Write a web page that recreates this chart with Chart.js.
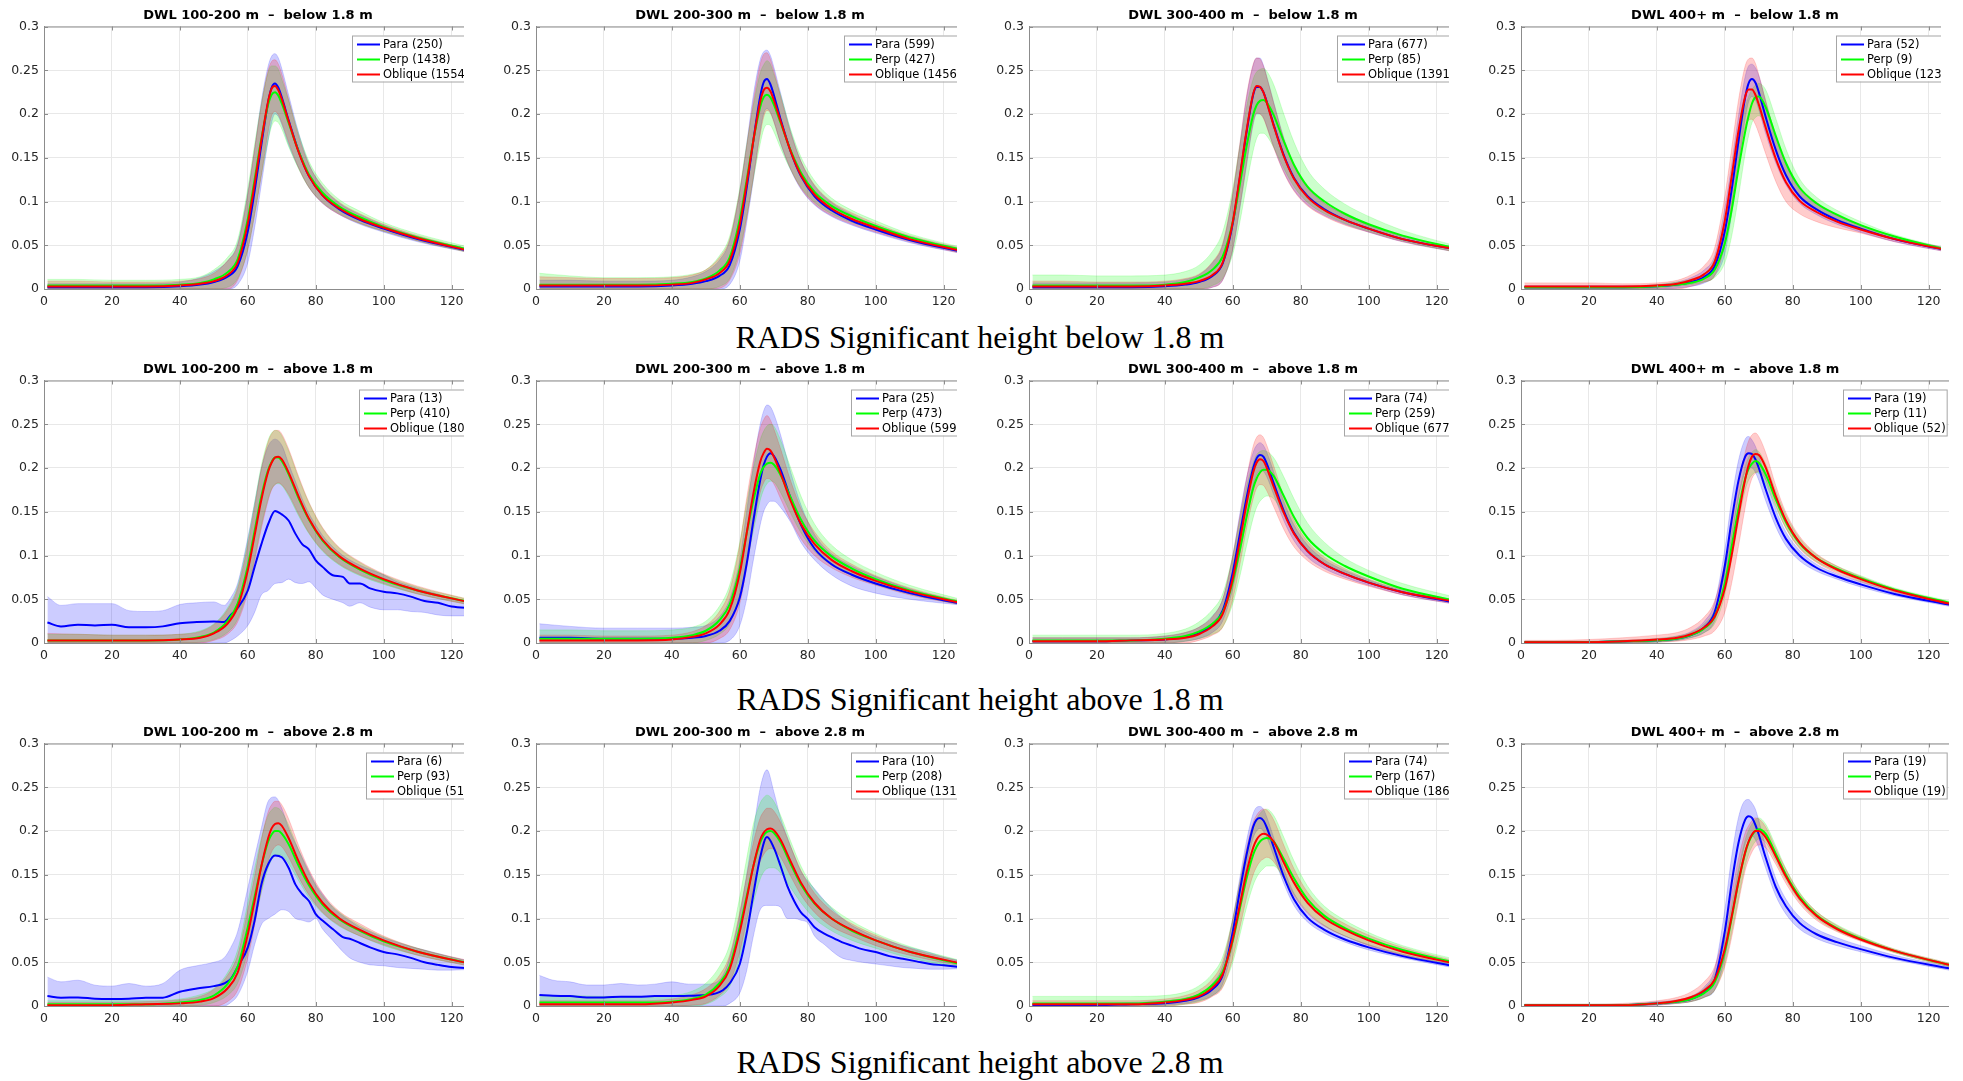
<!DOCTYPE html>
<html>
<head>
<meta charset="utf-8">
<title>DWL waveform means</title>
<script src="https://cdn.jsdelivr.net/npm/chart.js@4.4.1/dist/chart.umd.min.js"></script>
<style>
  body { margin: 0; background: #fff; }
  #fig { position: relative; width: 1963px; height: 1081px; overflow: hidden; background: #fff; }
  .panel { position: absolute; overflow: hidden; }
  .ttl { position: absolute; font: bold 13px "DejaVu Sans", sans-serif; white-space: pre; text-align: center; color: #000; line-height: 17px; }
  .cap { position: absolute; left: 0; width: 1960px; text-align: center; font: 32px "Liberation Serif", serif; line-height: 32px; color: #000; }
</style>
</head>
<body>
<div id="fig"></div>
<script>
// sample positions (range gate) shared by the smooth curves
const xs = [1, 10, 20, 30, 40, 46, 50, 54, 57, 60, 62, 64, 66, 67, 68, 69, 70, 72, 75, 78, 82, 87, 93, 100, 110, 126];
// finer sampling for the noisy low-count Para curves
const xsFine = [1, 5, 10, 15, 20, 25, 30, 35, 40, 45, 50, 53, 55, 57, 60, 62, 64, 66, 68, 70, 72, 74, 76, 78, 80, 82, 85, 88, 90, 93, 96, 100, 104, 108, 112, 116, 120, 126];

const xTicks = [0, 20, 40, 60, 80, 100, 120];
const yTicks = [0, 0.05, 0.1, 0.15, 0.2, 0.25, 0.3];

const dwlBins = ['100-200', '200-300', '300-400', '400+'];
const hsClass = ['below 1.8 m', 'above 1.8 m', 'above 2.8 m'];
const seriesNames = ['Para', 'Perp', 'Oblique'];

// waveform counts per panel, row by row
const paraN    = [250, 599, 677, 52,   13, 25, 74, 19,   6, 10, 74, 19];
const perpN    = [1438, 427, 85, 9,    410, 473, 259, 11, 93, 208, 167, 5];
const obliqueN = [1554, 1456, 1391, 123, 180, 599, 677, 52, 51, 131, 186, 19];

// ---- below 1.8 m ----
// DWL 100-200
const a1Para   = [0.002,0.002,0.002,0.002,0.003,0.005,0.008,0.014,0.026,0.066,0.112,0.165,0.214,0.23,0.235,0.23,0.219,0.193,0.157,0.129,0.107,0.091,0.079,0.069,0.057,0.043];
const a1ParaLo = [0,0,0,0,0,0,0,0,0.005,0.03,0.07,0.12,0.17,0.19,0.2,0.197,0.188,0.165,0.138,0.116,0.098,0.085,0.074,0.065,0.054,0.041];
const a1ParaHi = [0.006,0.006,0.006,0.006,0.008,0.013,0.02,0.032,0.052,0.11,0.16,0.215,0.255,0.266,0.269,0.264,0.252,0.222,0.178,0.143,0.117,0.098,0.085,0.073,0.06,0.045];
const a1Perp   = [0.004,0.004,0.004,0.004,0.005,0.007,0.011,0.019,0.034,0.08,0.125,0.172,0.211,0.222,0.225,0.221,0.212,0.19,0.157,0.131,0.11,0.094,0.082,0.071,0.059,0.044];
const a1PerpLo = [0,0,0,0,0,0,0,0.002,0.012,0.045,0.085,0.13,0.17,0.186,0.192,0.19,0.183,0.163,0.137,0.116,0.099,0.086,0.075,0.066,0.055,0.041];
const a1PerpHi = [0.011,0.011,0.01,0.01,0.011,0.014,0.022,0.036,0.056,0.115,0.165,0.212,0.248,0.255,0.255,0.251,0.24,0.216,0.177,0.146,0.121,0.102,0.089,0.076,0.063,0.047];
const a1Obl    = [0.003,0.003,0.003,0.003,0.004,0.006,0.009,0.016,0.03,0.075,0.12,0.17,0.215,0.229,0.232,0.227,0.217,0.192,0.156,0.129,0.107,0.092,0.08,0.07,0.058,0.043];
const a1OblLo  = [0,0,0,0,0,0,0,0,0.01,0.045,0.085,0.13,0.18,0.198,0.203,0.199,0.19,0.168,0.138,0.116,0.098,0.085,0.075,0.066,0.055,0.041];
const a1OblHi  = [0.009,0.009,0.008,0.008,0.009,0.012,0.018,0.032,0.05,0.108,0.16,0.21,0.25,0.26,0.262,0.257,0.246,0.217,0.174,0.142,0.117,0.099,0.086,0.074,0.061,0.045];
// DWL 200-300
const a2Para   = [0.003,0.003,0.003,0.003,0.004,0.006,0.009,0.015,0.027,0.068,0.115,0.17,0.22,0.236,0.24,0.234,0.222,0.194,0.157,0.129,0.106,0.09,0.078,0.068,0.056,0.042];
const a2ParaLo = [0,0,0,0,0,0,0,0,0.005,0.032,0.075,0.125,0.18,0.2,0.206,0.202,0.192,0.166,0.136,0.114,0.096,0.083,0.073,0.064,0.053,0.04];
const a2ParaHi = [0.01,0.01,0.009,0.009,0.01,0.014,0.02,0.033,0.055,0.112,0.165,0.222,0.262,0.271,0.273,0.267,0.254,0.224,0.18,0.146,0.118,0.099,0.085,0.073,0.06,0.045];
const a2Perp   = [0.005,0.005,0.005,0.005,0.006,0.008,0.012,0.021,0.036,0.08,0.124,0.17,0.208,0.219,0.222,0.219,0.211,0.19,0.158,0.133,0.111,0.095,0.083,0.072,0.059,0.044];
const a2PerpLo = [0,0,0,0,0,0,0,0.003,0.012,0.045,0.082,0.126,0.166,0.182,0.188,0.187,0.18,0.161,0.136,0.116,0.099,0.086,0.076,0.067,0.055,0.041];
const a2PerpHi = [0.018,0.015,0.013,0.013,0.014,0.017,0.022,0.038,0.06,0.115,0.165,0.21,0.247,0.256,0.261,0.257,0.246,0.222,0.182,0.151,0.124,0.104,0.09,0.078,0.063,0.047];
const a2Obl    = [0.004,0.004,0.004,0.004,0.005,0.007,0.011,0.018,0.032,0.074,0.12,0.17,0.214,0.227,0.23,0.226,0.216,0.192,0.157,0.13,0.108,0.092,0.08,0.07,0.057,0.043];
const a2OblLo  = [0,0,0,0,0,0,0,0.001,0.01,0.04,0.08,0.128,0.176,0.196,0.204,0.201,0.191,0.167,0.137,0.115,0.097,0.084,0.074,0.065,0.054,0.04];
const a2OblHi  = [0.014,0.013,0.012,0.012,0.013,0.016,0.022,0.036,0.057,0.112,0.163,0.215,0.257,0.268,0.27,0.263,0.25,0.22,0.178,0.146,0.119,0.1,0.087,0.075,0.061,0.046];
// DWL 300-400
const a3Para   = [0.002,0.002,0.002,0.002,0.003,0.005,0.008,0.015,0.029,0.075,0.125,0.178,0.222,0.231,0.231,0.225,0.214,0.188,0.153,0.127,0.106,0.091,0.079,0.069,0.057,0.045];
const a3ParaLo = [0,0,0,0,0,0,0,0.002,0.01,0.045,0.09,0.14,0.188,0.2,0.2,0.196,0.186,0.163,0.134,0.113,0.096,0.084,0.074,0.065,0.054,0.042];
const a3ParaHi = [0.007,0.007,0.007,0.007,0.008,0.011,0.016,0.03,0.05,0.108,0.162,0.218,0.256,0.264,0.264,0.256,0.243,0.214,0.173,0.142,0.116,0.098,0.085,0.073,0.06,0.047];
const a3Perp   = [0.004,0.004,0.004,0.004,0.005,0.008,0.013,0.022,0.037,0.077,0.118,0.162,0.199,0.21,0.215,0.216,0.213,0.199,0.169,0.142,0.117,0.1,0.086,0.074,0.061,0.046];
const a3PerpLo = [0,0,0,0,0,0,0,0.004,0.012,0.04,0.075,0.118,0.158,0.172,0.178,0.178,0.175,0.162,0.138,0.117,0.099,0.086,0.075,0.066,0.055,0.042];
const a3PerpHi = [0.016,0.016,0.015,0.015,0.016,0.02,0.027,0.043,0.065,0.115,0.162,0.207,0.24,0.248,0.251,0.252,0.249,0.234,0.2,0.168,0.136,0.114,0.097,0.083,0.067,0.049];
const a3Obl    = [0.003,0.003,0.003,0.003,0.004,0.006,0.009,0.016,0.03,0.077,0.127,0.18,0.223,0.232,0.231,0.225,0.213,0.187,0.152,0.126,0.105,0.09,0.079,0.069,0.057,0.045];
const a3OblLo  = [0,0,0,0,0,0,0,0.002,0.01,0.046,0.092,0.142,0.19,0.201,0.2,0.195,0.185,0.162,0.133,0.112,0.095,0.083,0.073,0.065,0.054,0.042];
const a3OblHi  = [0.009,0.009,0.008,0.008,0.009,0.012,0.017,0.031,0.052,0.11,0.164,0.22,0.257,0.264,0.263,0.255,0.242,0.213,0.172,0.141,0.116,0.098,0.085,0.073,0.06,0.047];
// DWL 400+
const a4Para   = [0.002,0.002,0.002,0.002,0.003,0.005,0.008,0.014,0.026,0.066,0.113,0.168,0.219,0.235,0.24,0.236,0.225,0.197,0.159,0.13,0.106,0.091,0.079,0.069,0.057,0.044];
const a4ParaLo = [0,0,0,0,0,0.001,0.003,0.007,0.015,0.04,0.085,0.14,0.195,0.214,0.22,0.216,0.205,0.178,0.144,0.119,0.098,0.085,0.074,0.065,0.054,0.042];
const a4ParaHi = [0.004,0.004,0.004,0.004,0.005,0.008,0.013,0.022,0.038,0.092,0.142,0.197,0.243,0.255,0.257,0.253,0.244,0.215,0.174,0.142,0.114,0.097,0.084,0.073,0.06,0.046];
const a4Perp   = [0.002,0.002,0.002,0.002,0.003,0.005,0.007,0.012,0.022,0.052,0.09,0.137,0.18,0.198,0.212,0.219,0.22,0.208,0.175,0.144,0.116,0.098,0.085,0.073,0.06,0.044];
const a4PerpLo = [0,0,0,0,0.001,0.003,0.005,0.008,0.013,0.03,0.06,0.105,0.155,0.175,0.19,0.196,0.198,0.188,0.158,0.131,0.107,0.092,0.08,0.07,0.058,0.043];
const a4PerpHi = [0.003,0.003,0.003,0.003,0.005,0.008,0.011,0.018,0.034,0.078,0.125,0.172,0.208,0.22,0.228,0.233,0.235,0.228,0.195,0.16,0.126,0.105,0.09,0.077,0.062,0.046];
const a4Obl    = [0.003,0.003,0.003,0.003,0.004,0.006,0.01,0.017,0.031,0.078,0.128,0.18,0.22,0.228,0.228,0.222,0.211,0.185,0.149,0.122,0.101,0.088,0.077,0.068,0.057,0.044];
const a4OblLo  = [0,0,0,0,0,0,0.003,0.008,0.015,0.05,0.095,0.145,0.185,0.193,0.194,0.188,0.178,0.155,0.123,0.1,0.086,0.077,0.07,0.064,0.054,0.042];
const a4OblHi  = [0.007,0.007,0.007,0.006,0.007,0.01,0.016,0.027,0.047,0.106,0.16,0.215,0.255,0.263,0.264,0.258,0.245,0.216,0.175,0.144,0.117,0.099,0.084,0.073,0.06,0.046];

// ---- above 1.8 m ----
// DWL 100-200 (Para on the fine grid)
const b1Para   = [0.0234,0.019,0.021,0.02,0.021,0.018,0.018,0.019,0.0227,0.024,0.0246,0.024,0.032,0.04,0.06,0.087,0.113,0.136,0.151,0.147,0.14,0.125,0.113,0.107,0.0945,0.087,0.0775,0.0756,0.068,0.068,0.0624,0.0586,0.0567,0.053,0.048,0.046,0.0416,0.04];
const b1ParaLo = [0,0,0,0,0,0,0,0,0,0,0,0,0.003,0.008,0.02,0.035,0.055,0.06,0.068,0.069,0.073,0.069,0.068,0.07,0.063,0.055,0.05,0.046,0.042,0.046,0.041,0.038,0.038,0.036,0.035,0.032,0.031,0.031];
const b1ParaHi = [0.053,0.043,0.045,0.045,0.045,0.037,0.036,0.037,0.044,0.046,0.047,0.043,0.052,0.068,0.12,0.16,0.2,0.225,0.233,0.226,0.205,0.185,0.165,0.148,0.135,0.123,0.11,0.1,0.095,0.089,0.084,0.078,0.07,0.065,0.06,0.056,0.051,0.047];
const b1Perp   = [0.003,0.003,0.003,0.003,0.004,0.007,0.012,0.025,0.045,0.088,0.128,0.168,0.198,0.207,0.212,0.212,0.208,0.193,0.165,0.141,0.117,0.098,0.084,0.072,0.06,0.046];
const b1PerpLo = [0,0,0,0,0,0.001,0.004,0.012,0.027,0.062,0.097,0.135,0.165,0.176,0.181,0.182,0.18,0.168,0.145,0.125,0.105,0.089,0.077,0.067,0.056,0.043];
const b1PerpHi = [0.01,0.01,0.009,0.009,0.01,0.014,0.022,0.04,0.065,0.117,0.16,0.203,0.232,0.24,0.243,0.242,0.237,0.22,0.188,0.16,0.131,0.108,0.092,0.078,0.064,0.049];
const b1Obl    = [0.003,0.003,0.003,0.003,0.004,0.006,0.011,0.022,0.041,0.083,0.123,0.164,0.196,0.206,0.212,0.213,0.21,0.195,0.167,0.142,0.118,0.099,0.085,0.073,0.06,0.046];
const b1OblLo  = [0,0,0,0,0,0,0.003,0.01,0.024,0.058,0.093,0.131,0.163,0.175,0.181,0.183,0.181,0.17,0.147,0.126,0.106,0.09,0.078,0.068,0.056,0.043];
const b1OblHi  = [0.011,0.01,0.009,0.009,0.01,0.013,0.021,0.038,0.062,0.112,0.155,0.199,0.23,0.239,0.243,0.243,0.239,0.222,0.19,0.161,0.132,0.109,0.093,0.079,0.065,0.049];
// DWL 200-300
const b2Para   = [0.006,0.006,0.005,0.005,0.005,0.006,0.008,0.014,0.025,0.052,0.09,0.14,0.186,0.203,0.213,0.217,0.214,0.198,0.165,0.135,0.108,0.09,0.078,0.068,0.057,0.044];
const b2ParaLo = [0,0,0,0,0,0,0,0,0.003,0.02,0.05,0.095,0.135,0.15,0.158,0.162,0.162,0.155,0.138,0.115,0.095,0.078,0.065,0.057,0.05,0.043];
const b2ParaHi = [0.022,0.019,0.017,0.017,0.017,0.018,0.02,0.03,0.05,0.095,0.15,0.205,0.25,0.265,0.272,0.27,0.262,0.238,0.195,0.158,0.124,0.102,0.088,0.076,0.062,0.046];
const b2Perp   = [0.005,0.005,0.005,0.005,0.006,0.009,0.014,0.026,0.044,0.085,0.125,0.163,0.193,0.201,0.205,0.206,0.204,0.192,0.166,0.141,0.117,0.099,0.085,0.073,0.06,0.046];
const b2PerpLo = [0,0,0,0,0,0,0.003,0.01,0.022,0.055,0.09,0.128,0.163,0.175,0.182,0.185,0.184,0.172,0.148,0.126,0.105,0.089,0.077,0.067,0.056,0.043];
const b2PerpHi = [0.015,0.015,0.014,0.014,0.015,0.018,0.025,0.042,0.066,0.115,0.16,0.2,0.232,0.242,0.248,0.25,0.248,0.232,0.2,0.168,0.136,0.112,0.095,0.081,0.066,0.049];
const b2Obl    = [0.003,0.003,0.003,0.003,0.004,0.007,0.011,0.021,0.038,0.08,0.125,0.171,0.207,0.217,0.222,0.22,0.213,0.194,0.162,0.136,0.113,0.095,0.082,0.071,0.059,0.045];
const b2OblLo  = [0,0,0,0,0,0,0,0.005,0.015,0.045,0.085,0.133,0.172,0.183,0.188,0.187,0.182,0.165,0.14,0.119,0.1,0.086,0.075,0.066,0.055,0.043];
const b2OblHi  = [0.009,0.009,0.008,0.008,0.009,0.013,0.02,0.036,0.06,0.113,0.165,0.21,0.245,0.255,0.26,0.255,0.245,0.222,0.185,0.154,0.127,0.105,0.09,0.077,0.063,0.047];
// DWL 300-400
const b3Para   = [0.002,0.002,0.002,0.003,0.004,0.007,0.011,0.021,0.037,0.081,0.123,0.165,0.2,0.211,0.215,0.213,0.205,0.183,0.151,0.126,0.105,0.09,0.079,0.069,0.058,0.046];
const b3ParaLo = [0,0,0,0,0,0.002,0.005,0.012,0.025,0.062,0.1,0.142,0.18,0.192,0.197,0.196,0.19,0.17,0.14,0.117,0.098,0.085,0.075,0.066,0.055,0.044];
const b3ParaHi = [0.006,0.006,0.006,0.006,0.008,0.012,0.018,0.031,0.05,0.1,0.146,0.188,0.218,0.226,0.229,0.226,0.218,0.196,0.162,0.135,0.112,0.095,0.083,0.072,0.06,0.048];
const b3Perp   = [0.003,0.003,0.003,0.003,0.005,0.008,0.013,0.022,0.035,0.07,0.105,0.143,0.177,0.188,0.195,0.198,0.198,0.191,0.168,0.144,0.12,0.102,0.088,0.076,0.062,0.048];
const b3PerpLo = [0,0,0,0,0,0.002,0.005,0.01,0.018,0.045,0.075,0.11,0.143,0.155,0.162,0.166,0.168,0.165,0.147,0.127,0.107,0.092,0.08,0.07,0.058,0.045];
const b3PerpHi = [0.009,0.009,0.009,0.009,0.011,0.016,0.024,0.038,0.056,0.1,0.14,0.178,0.206,0.215,0.219,0.22,0.219,0.212,0.19,0.165,0.137,0.115,0.097,0.083,0.068,0.052];
const b3Obl    = [0.002,0.002,0.002,0.003,0.004,0.006,0.01,0.019,0.033,0.074,0.115,0.158,0.195,0.206,0.21,0.208,0.2,0.179,0.149,0.125,0.105,0.09,0.079,0.069,0.058,0.047];
const b3OblLo  = [0,0,0,0,0,0,0.003,0.009,0.018,0.05,0.088,0.13,0.165,0.177,0.181,0.18,0.174,0.156,0.13,0.11,0.094,0.082,0.073,0.065,0.055,0.044];
const b3OblHi  = [0.006,0.006,0.006,0.006,0.008,0.012,0.018,0.03,0.05,0.1,0.143,0.187,0.225,0.235,0.238,0.235,0.226,0.203,0.168,0.14,0.116,0.098,0.085,0.073,0.061,0.049];
// DWL 400+
const b4Para   = [0.001,0.001,0.001,0.002,0.003,0.005,0.009,0.018,0.035,0.088,0.14,0.185,0.213,0.217,0.216,0.21,0.2,0.176,0.143,0.119,0.1,0.086,0.076,0.067,0.056,0.044];
const b4ParaLo = [0,0,0,0,0.001,0.003,0.006,0.012,0.025,0.07,0.118,0.165,0.196,0.2,0.2,0.195,0.186,0.163,0.133,0.111,0.094,0.082,0.073,0.064,0.054,0.042];
const b4ParaHi = [0.002,0.002,0.002,0.003,0.005,0.008,0.013,0.025,0.046,0.107,0.163,0.208,0.233,0.236,0.232,0.225,0.214,0.189,0.153,0.127,0.106,0.09,0.079,0.07,0.058,0.046];
const b4Perp   = [0.001,0.001,0.001,0.002,0.003,0.005,0.009,0.017,0.03,0.068,0.11,0.153,0.188,0.199,0.205,0.208,0.206,0.193,0.164,0.138,0.114,0.097,0.085,0.074,0.061,0.046];
const b4PerpLo = [0,0,0,0,0.001,0.003,0.006,0.012,0.022,0.055,0.095,0.138,0.175,0.186,0.192,0.195,0.194,0.182,0.155,0.131,0.109,0.093,0.082,0.071,0.059,0.045];
const b4PerpHi = [0.002,0.002,0.002,0.003,0.005,0.008,0.012,0.022,0.038,0.082,0.125,0.168,0.202,0.212,0.218,0.221,0.219,0.205,0.174,0.146,0.12,0.101,0.088,0.077,0.063,0.048];
const b4Obl    = [0.001,0.001,0.001,0.002,0.004,0.006,0.01,0.018,0.03,0.062,0.1,0.145,0.187,0.203,0.213,0.216,0.215,0.201,0.168,0.14,0.115,0.097,0.084,0.073,0.06,0.045];
const b4OblLo  = [0,0,0,0,0.001,0.002,0.004,0.008,0.014,0.035,0.068,0.11,0.155,0.175,0.188,0.194,0.196,0.187,0.157,0.131,0.108,0.092,0.08,0.07,0.058,0.043];
const b4OblHi  = [0.003,0.003,0.004,0.006,0.009,0.012,0.018,0.03,0.048,0.092,0.135,0.18,0.218,0.231,0.238,0.24,0.236,0.218,0.18,0.149,0.122,0.102,0.088,0.076,0.062,0.047];

// ---- above 2.8 m ----
// DWL 100-200 (Para on the fine grid)
const c1Para   = [0.0113,0.0095,0.0098,0.0083,0.008,0.0083,0.0095,0.0095,0.0163,0.02,0.0227,0.0257,0.031,0.0446,0.067,0.0976,0.139,0.162,0.172,0.17,0.158,0.139,0.128,0.12,0.105,0.0976,0.088,0.0787,0.0768,0.072,0.067,0.0617,0.059,0.055,0.05,0.047,0.0446,0.043];
const c1ParaLo = [0,0,0,0,0,0,0,0,0,0,0,0,0.004,0.012,0.04,0.07,0.093,0.1,0.105,0.11,0.108,0.1,0.098,0.096,0.1,0.088,0.075,0.062,0.055,0.05,0.047,0.046,0.044,0.043,0.042,0.041,0.041,0.042];
const c1ParaHi = [0.033,0.0276,0.0295,0.0238,0.0227,0.0257,0.0227,0.0257,0.041,0.046,0.05,0.055,0.067,0.085,0.135,0.17,0.2035,0.234,0.239,0.226,0.2035,0.186,0.17,0.154,0.139,0.128,0.113,0.103,0.0976,0.09,0.085,0.078,0.073,0.068,0.064,0.06,0.056,0.051];
const c1Perp   = [0.002,0.002,0.002,0.002,0.004,0.007,0.012,0.025,0.045,0.09,0.125,0.16,0.188,0.196,0.2,0.2,0.197,0.185,0.16,0.138,0.116,0.099,0.086,0.074,0.062,0.048];
const c1PerpLo = [0,0,0,0,0,0.001,0.004,0.012,0.026,0.062,0.095,0.13,0.158,0.167,0.172,0.173,0.172,0.163,0.143,0.124,0.106,0.091,0.08,0.069,0.058,0.045];
const c1PerpHi = [0.006,0.006,0.006,0.006,0.008,0.013,0.02,0.038,0.064,0.118,0.157,0.192,0.218,0.224,0.227,0.226,0.222,0.207,0.178,0.152,0.126,0.107,0.092,0.079,0.066,0.05];
const c1Obl    = [0.001,0.001,0.001,0.002,0.003,0.005,0.009,0.02,0.038,0.082,0.12,0.16,0.192,0.203,0.208,0.209,0.206,0.192,0.165,0.141,0.118,0.1,0.087,0.075,0.062,0.048];
const c1OblLo  = [0,0,0,0,0,0,0,0.005,0.018,0.055,0.092,0.132,0.165,0.176,0.182,0.184,0.182,0.17,0.147,0.127,0.107,0.092,0.08,0.07,0.058,0.045];
const c1OblHi  = [0.004,0.004,0.004,0.005,0.007,0.011,0.019,0.035,0.058,0.11,0.148,0.19,0.222,0.23,0.234,0.234,0.23,0.214,0.183,0.156,0.129,0.108,0.094,0.08,0.066,0.051];
// DWL 200-300 (Para on the fine grid)
const c2Para   = [0.0125,0.0117,0.0113,0.0098,0.0098,0.0106,0.0106,0.0113,0.0113,0.0117,0.0125,0.0144,0.018,0.0257,0.048,0.0825,0.128,0.17,0.193,0.181,0.16,0.137,0.12,0.107,0.0995,0.09,0.0825,0.0768,0.073,0.069,0.065,0.0617,0.057,0.054,0.051,0.048,0.0465,0.044];
const c2ParaLo = [0,0,0,0,0,0,0,0,0,0,0,0,0,0.003,0.015,0.04,0.08,0.11,0.115,0.115,0.113,0.1,0.1,0.098,0.095,0.08,0.07,0.06,0.055,0.052,0.05,0.048,0.046,0.044,0.043,0.042,0.042,0.043];
const c2ParaHi = [0.035,0.0295,0.0276,0.024,0.024,0.0257,0.024,0.025,0.0276,0.025,0.025,0.027,0.035,0.055,0.105,0.15,0.2,0.249,0.27,0.245,0.215,0.193,0.172,0.154,0.143,0.134,0.12,0.108,0.101,0.092,0.086,0.0787,0.074,0.069,0.065,0.061,0.056,0.051];
const c2Perp   = [0.004,0.004,0.004,0.004,0.005,0.008,0.013,0.026,0.045,0.09,0.125,0.16,0.187,0.195,0.199,0.2,0.198,0.187,0.162,0.139,0.117,0.1,0.086,0.075,0.062,0.047];
const c2PerpLo = [0,0,0,0,0,0,0.002,0.01,0.022,0.055,0.085,0.118,0.145,0.153,0.157,0.158,0.158,0.152,0.135,0.118,0.1,0.086,0.075,0.066,0.055,0.043];
const c2PerpHi = [0.012,0.012,0.011,0.011,0.012,0.017,0.026,0.045,0.07,0.125,0.168,0.208,0.232,0.238,0.241,0.239,0.234,0.218,0.188,0.16,0.133,0.113,0.097,0.083,0.068,0.051];
const c2Obl    = [0.002,0.002,0.002,0.002,0.004,0.007,0.011,0.023,0.042,0.085,0.122,0.16,0.19,0.198,0.202,0.203,0.201,0.19,0.165,0.141,0.118,0.1,0.087,0.075,0.062,0.048];
const c2OblLo  = [0,0,0,0,0,0.001,0.003,0.012,0.026,0.062,0.097,0.135,0.165,0.173,0.178,0.18,0.179,0.17,0.148,0.127,0.107,0.091,0.08,0.069,0.058,0.045];
const c2OblHi  = [0.006,0.006,0.006,0.006,0.008,0.013,0.02,0.035,0.058,0.108,0.148,0.187,0.215,0.222,0.226,0.226,0.223,0.21,0.182,0.155,0.129,0.109,0.094,0.081,0.066,0.05];
// DWL 300-400
const c3Para   = [0.001,0.001,0.001,0.002,0.003,0.006,0.01,0.019,0.035,0.085,0.13,0.172,0.205,0.213,0.215,0.212,0.204,0.182,0.148,0.122,0.101,0.087,0.076,0.067,0.057,0.045];
const c3ParaLo = [0,0,0,0,0.001,0.003,0.006,0.012,0.025,0.07,0.115,0.158,0.192,0.2,0.203,0.2,0.193,0.172,0.14,0.115,0.096,0.083,0.073,0.064,0.055,0.043];
const c3ParaHi = [0.003,0.003,0.003,0.004,0.006,0.009,0.014,0.026,0.046,0.1,0.145,0.188,0.22,0.227,0.228,0.225,0.216,0.193,0.157,0.129,0.107,0.092,0.08,0.07,0.059,0.047];
const c3Perp   = [0.003,0.003,0.003,0.003,0.005,0.008,0.013,0.024,0.039,0.075,0.11,0.145,0.173,0.182,0.188,0.191,0.192,0.188,0.168,0.146,0.122,0.103,0.089,0.077,0.064,0.049];
const c3PerpLo = [0,0,0,0,0,0.002,0.005,0.012,0.022,0.05,0.08,0.112,0.138,0.147,0.153,0.157,0.16,0.16,0.146,0.128,0.108,0.092,0.08,0.07,0.059,0.046];
const c3PerpHi = [0.011,0.011,0.011,0.011,0.012,0.016,0.023,0.037,0.056,0.1,0.14,0.177,0.205,0.214,0.22,0.224,0.225,0.218,0.193,0.166,0.137,0.114,0.098,0.084,0.069,0.053];
const c3Obl    = [0.002,0.002,0.002,0.002,0.004,0.007,0.011,0.021,0.036,0.077,0.114,0.152,0.181,0.19,0.195,0.197,0.196,0.188,0.164,0.141,0.118,0.1,0.087,0.075,0.062,0.048];
const c3OblLo  = [0,0,0,0,0,0.002,0.004,0.011,0.021,0.055,0.088,0.123,0.15,0.159,0.165,0.168,0.17,0.165,0.146,0.126,0.106,0.091,0.08,0.069,0.058,0.045];
const c3OblHi  = [0.006,0.006,0.006,0.006,0.008,0.012,0.018,0.031,0.051,0.1,0.14,0.18,0.21,0.218,0.223,0.225,0.224,0.213,0.184,0.157,0.13,0.109,0.094,0.081,0.067,0.051];
// DWL 400+
const c4Para   = [0.001,0.001,0.001,0.001,0.003,0.005,0.008,0.016,0.03,0.085,0.14,0.186,0.213,0.217,0.215,0.207,0.196,0.17,0.136,0.114,0.095,0.082,0.073,0.065,0.055,0.043];
const c4ParaLo = [0,0,0,0,0.001,0.003,0.005,0.01,0.018,0.055,0.1,0.15,0.185,0.192,0.195,0.19,0.181,0.158,0.126,0.105,0.088,0.077,0.069,0.062,0.053,0.041];
const c4ParaHi = [0.002,0.002,0.002,0.002,0.005,0.007,0.011,0.022,0.042,0.11,0.17,0.215,0.235,0.236,0.232,0.225,0.212,0.183,0.146,0.122,0.102,0.088,0.078,0.069,0.058,0.045];
const c4Perp   = [0.001,0.001,0.001,0.001,0.003,0.005,0.008,0.015,0.027,0.062,0.1,0.141,0.175,0.187,0.195,0.2,0.202,0.197,0.174,0.15,0.125,0.104,0.089,0.077,0.063,0.047];
const c4PerpLo = [0,0,0,0,0.002,0.003,0.005,0.01,0.018,0.048,0.083,0.122,0.16,0.173,0.182,0.188,0.191,0.187,0.166,0.144,0.12,0.1,0.086,0.075,0.061,0.045];
const c4PerpHi = [0.002,0.002,0.002,0.002,0.004,0.007,0.011,0.02,0.036,0.076,0.115,0.156,0.19,0.201,0.208,0.213,0.215,0.208,0.183,0.157,0.13,0.108,0.093,0.08,0.065,0.049];
const c4Obl    = [0.001,0.001,0.001,0.001,0.003,0.006,0.01,0.018,0.03,0.065,0.102,0.142,0.176,0.188,0.196,0.2,0.2,0.193,0.171,0.148,0.123,0.103,0.088,0.076,0.063,0.047];
const c4OblLo  = [0,0,0,0,0.001,0.003,0.005,0.01,0.018,0.045,0.078,0.118,0.155,0.167,0.176,0.182,0.184,0.181,0.162,0.14,0.117,0.098,0.085,0.074,0.061,0.045];
const c4OblHi  = [0.002,0.002,0.002,0.003,0.006,0.01,0.016,0.028,0.045,0.088,0.128,0.168,0.198,0.206,0.212,0.215,0.214,0.205,0.18,0.156,0.129,0.108,0.092,0.079,0.065,0.049];

// panel contents: [para, perp, oblique] as [x, mean, lo, hi]
const panelData = [
  [
    [[xs, a1Para, a1ParaLo, a1ParaHi], [xs, a1Perp, a1PerpLo, a1PerpHi], [xs, a1Obl, a1OblLo, a1OblHi]],
    [[xs, a2Para, a2ParaLo, a2ParaHi], [xs, a2Perp, a2PerpLo, a2PerpHi], [xs, a2Obl, a2OblLo, a2OblHi]],
    [[xs, a3Para, a3ParaLo, a3ParaHi], [xs, a3Perp, a3PerpLo, a3PerpHi], [xs, a3Obl, a3OblLo, a3OblHi]],
    [[xs, a4Para, a4ParaLo, a4ParaHi], [xs, a4Perp, a4PerpLo, a4PerpHi], [xs, a4Obl, a4OblLo, a4OblHi]]
  ],
  [
    [[xsFine, b1Para, b1ParaLo, b1ParaHi], [xs, b1Perp, b1PerpLo, b1PerpHi], [xs, b1Obl, b1OblLo, b1OblHi]],
    [[xs, b2Para, b2ParaLo, b2ParaHi], [xs, b2Perp, b2PerpLo, b2PerpHi], [xs, b2Obl, b2OblLo, b2OblHi]],
    [[xs, b3Para, b3ParaLo, b3ParaHi], [xs, b3Perp, b3PerpLo, b3PerpHi], [xs, b3Obl, b3OblLo, b3OblHi]],
    [[xs, b4Para, b4ParaLo, b4ParaHi], [xs, b4Perp, b4PerpLo, b4PerpHi], [xs, b4Obl, b4OblLo, b4OblHi]]
  ],
  [
    [[xsFine, c1Para, c1ParaLo, c1ParaHi], [xs, c1Perp, c1PerpLo, c1PerpHi], [xs, c1Obl, c1OblLo, c1OblHi]],
    [[xsFine, c2Para, c2ParaLo, c2ParaHi], [xs, c2Perp, c2PerpLo, c2PerpHi], [xs, c2Obl, c2OblLo, c2OblHi]],
    [[xs, c3Para, c3ParaLo, c3ParaHi], [xs, c3Perp, c3PerpLo, c3PerpHi], [xs, c3Obl, c3OblLo, c3OblHi]],
    [[xs, c4Para, c4ParaLo, c4ParaHi], [xs, c4Perp, c4PerpLo, c4PerpHi], [xs, c4Obl, c4OblLo, c4OblHi]]
  ]
];

// layout of the 3x4 grid
const colLeft = [44, 536, 1029, 1521];
const rowTop = [24, 378, 741];
const visW = [[420, 421, 420, 420], [420, 421, 420, 428], [420, 421, 420, 428]];
const FULL_W = 428, PLOT_H = 265, AXIS_W = 48, PAD_TOP = 10, XAX_H = 26;
const X_MAX = 126;
const capTop = [321, 683, 1046];

const rgb = ['0,0,255', '0,255,0', '255,0,0'];
const tickFont = { family: '"DejaVu Sans", sans-serif', size: 12.5 };

const fig = document.getElementById('fig');

function pts(x, y) { return x.map((v, i) => ({ x: v, y: y[i] })); }

// axes box top edge plus inward tick marks
const framePlugin = {
  id: 'frame',
  afterDraw(chart) {
    const { ctx, chartArea: a, scales } = chart;
    ctx.save();
    ctx.strokeStyle = '#8c8c8c';
    ctx.lineWidth = 1;
    ctx.beginPath();
    ctx.moveTo(a.left, a.top + 0.5); ctx.lineTo(a.right, a.top + 0.5);
    xTicks.forEach(v => {
      const px = Math.round(scales.x.getPixelForValue(v)) + 0.5;
      ctx.moveTo(px, a.bottom); ctx.lineTo(px, a.bottom - 4);
      ctx.moveTo(px, a.top); ctx.lineTo(px, a.top + 4);
    });
    yTicks.forEach(v => {
      const py = Math.round(scales.y.getPixelForValue(v)) + 0.5;
      ctx.moveTo(a.left, py); ctx.lineTo(a.left + 4, py);
    });
    ctx.stroke();
    ctx.restore();
  }
};

function legendPlugin(items) {
  return {
    id: 'boxLegend',
    afterDraw(chart) {
      const { ctx, chartArea: a } = chart;
      ctx.save();
      ctx.font = '11.5px "DejaVu Sans", sans-serif';
      const tw = Math.max(...items.map(it => ctx.measureText(it.text).width));
      const w = tw + 32, h = 46;
      const x0 = Math.round(a.right - 2 - w), y0 = a.top + 9;
      ctx.fillStyle = '#fff';
      ctx.fillRect(x0, y0, w, h);
      ctx.strokeStyle = '#a6a6a6';
      ctx.lineWidth = 1;
      ctx.strokeRect(x0 + 0.5, y0 + 0.5, w, h);
      items.forEach((it, i) => {
        const yy = y0 + 9 + i * 15;
        ctx.strokeStyle = it.color;
        ctx.lineWidth = 2;
        ctx.beginPath();
        ctx.moveTo(x0 + 5, yy); ctx.lineTo(x0 + 28, yy);
        ctx.stroke();
        ctx.fillStyle = '#000';
        ctx.textBaseline = 'middle';
        ctx.fillText(it.text, x0 + 31, yy + 1);
      });
      ctx.restore();
    }
  };
}

for (let r = 0; r < 3; r++) {
  for (let c = 0; c < 4; c++) {
    const k = r * 4 + c;
    const counts = [paraN[k], perpN[k], obliqueN[k]];
    const series = panelData[r][c];

    const box = document.createElement('div');
    box.className = 'panel';
    box.style.left = (colLeft[c] - AXIS_W) + 'px';
    box.style.top = (rowTop[r] - PAD_TOP) + 'px';
    box.style.width = (AXIS_W + visW[r][c]) + 'px';
    box.style.height = (PAD_TOP + PLOT_H + XAX_H) + 'px';
    const cv = document.createElement('canvas');
    cv.width = AXIS_W + FULL_W + 2;
    cv.height = PAD_TOP + PLOT_H + XAX_H;
    box.appendChild(cv);
    fig.appendChild(box);

    const ttl = document.createElement('div');
    ttl.className = 'ttl';
    ttl.style.left = colLeft[c] + 'px';
    ttl.style.width = FULL_W + 'px';
    ttl.style.top = (rowTop[r] - 18) + 'px';
    ttl.textContent = 'DWL ' + dwlBins[c] + ' m  \u2013  ' + hsClass[r];
    fig.appendChild(ttl);

    const datasets = [];
    // shaded spread, drawn underneath
    series.forEach(([x, m, lo, hi], i) => {
      datasets.push({ data: pts(x, hi), fill: '+1', backgroundColor: `rgba(${rgb[i]},0.2)`,
        borderColor: `rgba(${rgb[i]},0.22)`, borderWidth: 0.8, order: 20 - i });
      datasets.push({ data: pts(x, lo), fill: false,
        borderColor: `rgba(${rgb[i]},0.22)`, borderWidth: 0.8, order: 20 - i });
    });
    // mean curves, Oblique on top
    series.forEach(([x, m], i) => {
      datasets.push({ data: pts(x, m), fill: false, borderColor: `rgb(${rgb[i]})`,
        borderWidth: 2, order: 3 - i });
    });

    const items = seriesNames.map((n, i) => ({ text: n + ' (' + counts[i] + ')', color: `rgb(${rgb[i]})` }));

    new Chart(cv, {
      type: 'line',
      data: { datasets },
      options: {
        responsive: false,
        animation: false,
        devicePixelRatio: 1,
        layout: { padding: { top: PAD_TOP, right: 2, left: 0, bottom: 0 } },
        plugins: { legend: { display: false }, tooltip: { enabled: false } },
        elements: { point: { radius: 0 }, line: { cubicInterpolationMode: 'monotone' } },
        scales: {
          x: {
            type: 'linear', min: 0, max: X_MAX,
            afterBuildTicks: s => { s.ticks = xTicks.map(v => ({ value: v })); },
            afterFit: s => { s.height = XAX_H; },
            grid: { color: '#e8e8e8', drawTicks: false },
            border: { color: '#8c8c8c' },
            ticks: { padding: 5, color: '#262626', font: tickFont, maxRotation: 0, autoSkip: false,
              callback: v => String(v) }
          },
          y: {
            type: 'linear', min: 0, max: 0.3,
            afterBuildTicks: s => { s.ticks = yTicks.map(v => ({ value: v })); },
            afterFit: s => { s.width = AXIS_W; },
            grid: { color: '#e8e8e8', drawTicks: false },
            border: { color: '#8c8c8c' },
            ticks: { padding: 5, color: '#262626', font: tickFont, autoSkip: false,
              callback: v => String(+v.toFixed(2)) }
          }
        }
      },
      plugins: [framePlugin, legendPlugin(items)]
    });
  }
}

hsClass.forEach((h, r) => {
  const cap = document.createElement('div');
  cap.className = 'cap';
  cap.style.top = capTop[r] + 'px';
  cap.textContent = 'RADS Significant height ' + h;
  fig.appendChild(cap);
});
</script>
</body>
</html>
